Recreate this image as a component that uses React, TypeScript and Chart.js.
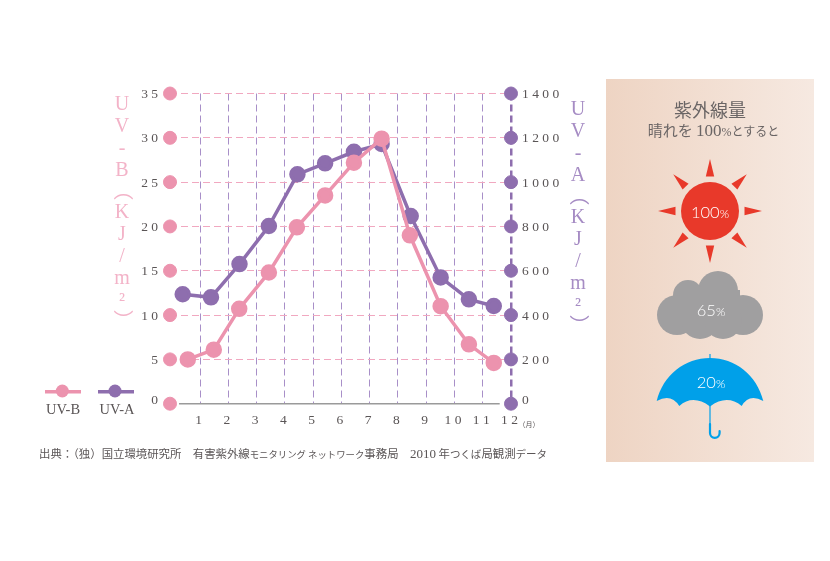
import React, { useEffect, useRef } from 'react';
import { Chart, registerables } from 'chart.js';

Chart.register(...registerables);

const PINK = '#ec93ae';
const PURPLE = '#8e6eae';
const TEXT = '#5a5556';
const SERIF = '"Liberation Serif", "Noto Sans CJK JP", serif';
const JP = '"Noto Sans CJK JP", sans-serif';

// month axis, the left dots sit just before month 0
const xMin = -0.07;
const xMax = 12;
const xTickValues = [1, 2, 3, 4, 5, 6, 7, 8, 9, 10, 11, 12];
const xTickLabels = ['1', '2', '3', '4', '5', '6', '7', '8', '9', '1 0', '1 1', '1 2'];

const uvbTicks = [0, 5, 10, 15, 20, 25, 30, 35];
const uvbTickLabels = ['0', '5', '1 0', '1 5', '2 0', '2 5', '3 0', '3 5'];
const uvaTicks = [0, 200, 400, 600, 800, 1000, 1200, 1400];
const uvaTickLabels = ['0', '2 0 0', '4 0 0', '6 0 0', '8 0 0', '1 0 0 0', '1 2 0 0', '1 4 0 0'];

const uvbMonths = [0.56, 1.48, 2.38, 3.43, 4.42, 5.42, 6.44, 7.42, 8.42, 9.51, 10.51, 11.39];
const uvbValues = [5.0, 6.1, 10.7, 14.8, 19.9, 23.5, 27.2, 29.9, 19.0, 11.0, 6.7, 4.6];
const uvaMonths = [0.38, 1.38, 2.39, 3.43, 4.44, 5.42, 6.44, 7.42, 8.45, 9.51, 10.51, 11.39];
const uvaValues = [494, 480, 630, 802, 1035, 1085, 1137, 1172, 847, 570, 471, 441];

const baselineMonths = [0.25, 11.6];
const baselineValues = [0, 0];

const tickFont = (ctx: any) => ({
  family: SERIF,
  size: 13.5,
  // the zero labels sit a bit above the axis, the empty 2nd line lifts them
  lineHeight: ctx.tick && ctx.tick.value === 0 ? '8px' : 1.2,
});

const rays = [0, 45, 90, 135, 180, 225, 270, 315];

const Label: React.FC<{ x: number; y: number; style?: React.CSSProperties; children: React.ReactNode }> = ({
  x,
  y,
  style,
  children,
}) => (
  <div
    style={{
      position: 'absolute',
      left: x,
      top: y,
      transform: 'translate(-50%, -50%)',
      whiteSpace: 'nowrap',
      lineHeight: 1,
      color: TEXT,
      ...style,
    }}
  >
    {children}
  </div>
);

const App: React.FC = () => {
  const canvasRef = useRef<HTMLCanvasElement | null>(null);

  useEffect(() => {
    if (!canvasRef.current) return;
    const chart = new Chart(canvasRef.current, {
      type: 'line',
      data: {
        datasets: [
          {
            label: 'UV-B',
            data: uvbMonths.map((m, i) => ({ x: m, y: uvbValues[i] })),
            borderColor: PINK,
            backgroundColor: PINK,
            borderWidth: 3.5,
            pointRadius: 6.5,
            tension: 0,
            yAxisID: 'y',
            clip: false,
            order: 1,
          },
          {
            label: 'UV-A',
            data: uvaMonths.map((m, i) => ({ x: m, y: uvaValues[i] })),
            borderColor: PURPLE,
            backgroundColor: PURPLE,
            borderWidth: 3.5,
            pointRadius: 6.5,
            tension: 0,
            yAxisID: 'y1',
            clip: false,
            order: 2,
          },
          {
            label: 'UV-B axis',
            data: uvbTicks.map((v) => ({ x: xMin, y: v })),
            showLine: false,
            backgroundColor: PINK,
            borderColor: PINK,
            pointRadius: 6.5,
            yAxisID: 'y',
            clip: false,
            order: 3,
          },
          {
            label: 'UV-A axis',
            data: uvaTicks.map((v) => ({ x: xMax, y: v })),
            showLine: false,
            backgroundColor: PURPLE,
            borderColor: PURPLE,
            pointRadius: 6.5,
            yAxisID: 'y1',
            clip: false,
            order: 3,
          },
          {
            label: 'baseline',
            data: baselineMonths.map((m, i) => ({ x: m, y: baselineValues[i] })),
            borderColor: '#9a9a9a',
            borderWidth: 1.5,
            pointRadius: 0,
            yAxisID: 'y',
            clip: false,
            order: 4,
          },
        ],
      },
      options: {
        responsive: false,
        animation: false,
        layout: { padding: { top: 93.5, left: 0, right: 0, bottom: 0 } },
        plugins: { legend: { display: false }, tooltip: { enabled: false } },
        scales: {
          x: {
            type: 'linear',
            min: xMin,
            max: xMax,
            afterBuildTicks: (axis: any) => {
              axis.ticks = xTickValues.map((value) => ({ value }));
            },
            afterFit: (axis: any) => {
              axis.height = 561 - 403.7;
            },
            border: { display: false, dash: [7, 4] },
            grid: {
              drawTicks: false,
              color: (ctx: any) => (ctx.tick && ctx.tick.value === 12 ? PURPLE : '#a88fc8'),
              lineWidth: (ctx: any) => (ctx.tick && ctx.tick.value === 12 ? 2.5 : 1),
            },
            ticks: {
              autoSkip: false,
              maxRotation: 0,
              padding: 9,
              labelOffset: -1.5,
              color: TEXT,
              font: { family: SERIF, size: 13.5 },
              callback: (val: any) => xTickLabels[xTickValues.indexOf(val)] ?? '',
            },
          },
          y: {
            position: 'left',
            min: 0,
            max: 35,
            afterBuildTicks: (axis: any) => {
              axis.ticks = uvbTicks.map((value) => ({ value }));
            },
            afterFit: (axis: any) => {
              axis.width = 170;
            },
            border: { display: false, dash: [7, 4] },
            grid: {
              drawTicks: false,
              color: (ctx: any) => (ctx.tick && ctx.tick.value === 0 ? 'transparent' : '#f1a8c0'),
              lineWidth: 1,
            },
            ticks: {
              padding: 12,
              labelOffset: 1,
              color: TEXT,
              font: tickFont,
              callback: (val: any) => {
                const label = uvbTickLabels[uvbTicks.indexOf(val)] ?? '';
                return val === 0 ? [label, ''] : label;
              },
            },
          },
          y1: {
            position: 'right',
            min: 0,
            max: 1400,
            afterBuildTicks: (axis: any) => {
              axis.ticks = uvaTicks.map((value) => ({ value }));
            },
            afterFit: (axis: any) => {
              axis.width = 830 - 511;
            },
            border: { display: false },
            grid: { display: false, drawTicks: false },
            ticks: {
              padding: 11,
              labelOffset: 1,
              color: TEXT,
              font: tickFont,
              callback: (val: any) => {
                const label = uvaTickLabels[uvaTicks.indexOf(val)] ?? '';
                return val === 0 ? [label, ''] : label;
              },
            },
          },
        },
      },
    });
    return () => chart.destroy();
  }, []);

  const verticalTitle: React.CSSProperties = {
    position: 'absolute',
    writingMode: 'vertical-rl',
    textOrientation: 'upright',
    fontFamily: SERIF,
    fontSize: 20,
    lineHeight: 1,
    whiteSpace: 'nowrap',
  };

  return (
    <div
      style={{
        position: 'absolute',
        left: 0,
        top: 0,
        width: 830,
        height: 561,
        overflow: 'hidden',
        background: '#fff',
      }}
    >
      <canvas ref={canvasRef} width={830} height={561} style={{ position: 'absolute', left: 0, top: 0 }} />

      <div style={{ ...verticalTitle, left: 112, top: 92, color: '#f3b3c8' }}>UV-B（KJ/m²）</div>
      <div style={{ ...verticalTitle, left: 568, top: 97, color: '#a68cc4' }}>UV-A（KJ/m²）</div>

      {/* legend */}
      <svg width={830} height={561} style={{ position: 'absolute', left: 0, top: 0 }}>
        <line x1={45} x2={81} y1={391.7} y2={391.7} stroke={PINK} strokeWidth={3.5} />
        <circle cx={62.3} cy={391} r={6.5} fill={PINK} />
        <line x1={98} x2={134} y1={391.7} y2={391.7} stroke={PURPLE} strokeWidth={3.5} />
        <circle cx={115} cy={391} r={6.5} fill={PURPLE} />
      </svg>
      <Label x={63} y={409} style={{ fontFamily: SERIF, fontSize: 14.5 }}>UV-B</Label>
      <Label x={117} y={409} style={{ fontFamily: SERIF, fontSize: 14.5 }}>UV-A</Label>

      <Label x={529} y={424} style={{ fontFamily: JP, fontSize: 7 }}>（月）</Label>

      {/* source line */}
      <div
        style={{
          position: 'absolute',
          left: 39,
          top: 447,
          whiteSpace: 'nowrap',
          lineHeight: 1,
          fontFamily: JP,
          fontSize: 11.4,
          color: TEXT,
        }}
      >
        出典：（独）国立環境研究所　有害紫外線
        <span style={{ fontSize: 9.4 }}>モニタリング ネットワーク</span>
        事務局　<span style={{ fontFamily: SERIF, fontSize: 13 }}>2010</span> 年
        <span style={{ fontSize: 10.5 }}>つくば</span>局観測
        <span style={{ fontSize: 10.5 }}>データ</span>
      </div>

      {/* right panel */}
      <div
        style={{
          position: 'absolute',
          left: 606,
          top: 79,
          width: 208,
          height: 383,
          background: 'linear-gradient(to right, #eed4c3, #f6e9e1)',
        }}
      />
      <svg width={830} height={561} style={{ position: 'absolute', left: 0, top: 0 }}>
        <g transform="translate(710 211)" fill="#e8392a">
          <circle r={29} />
          {rays.map((r) => (
            <polygon key={r} points="-4.2,-34.5 4.2,-34.5 0,-52" transform={`rotate(${r})`} />
          ))}
        </g>
        <g fill="#a09fa0">
          <circle cx={718} cy={291} r={20} />
          <circle cx={688} cy={295} r={15} />
          <circle cx={677} cy={315} r={20} />
          <circle cx={743} cy={315} r={20} />
          <circle cx={700} cy={320} r={19} />
          <circle cx={723} cy={320} r={19} />
          <rect x={680} y={290} width={60} height={35} />
        </g>
        <g>
          <path
            d="M656.7 401 C663 375 685 358 710 358 C735 358 757 375 763.3 401 Q749 393 741.7 406 Q727 394 710 406.5 Q693 394 679.3 406 Q671 393 656.7 401 Z"
            fill="#00a0e9"
          />
          <path d="M710 354 V426" stroke="#00a0e9" strokeWidth={1.2} fill="none" />
          <path
            d="M710 424 V433 A4.7 4.7 0 0 0 719.6 433 V431"
            stroke="#00a0e9"
            strokeWidth={2.2}
            fill="none"
            strokeLinecap="round"
          />
        </g>
      </svg>

      <Label x={710} y={109} style={{ fontFamily: JP, fontSize: 18, color: '#6a6565' }}>紫外線量</Label>
      <Label x={713.5} y={130} style={{ fontFamily: JP, fontSize: 15, color: '#6a6565' }}>
        晴れを <span style={{ fontFamily: SERIF, fontSize: 17 }}>100</span>
        <span style={{ fontFamily: SERIF, fontSize: 12 }}>%</span>
        <span style={{ fontSize: 12 }}>とすると</span>
      </Label>

      <Label x={710} y={212} style={{ fontFamily: 'Lato', fontWeight: 300, fontSize: 16.5, color: '#fff' }}>
        100<span style={{ fontSize: 12 }}>%</span>
      </Label>
      <Label x={711} y={310} style={{ fontFamily: 'Lato', fontWeight: 300, fontSize: 16.5, color: '#fff' }}>
        65<span style={{ fontSize: 12 }}>%</span>
      </Label>
      <Label x={711} y={382} style={{ fontFamily: 'Lato', fontWeight: 300, fontSize: 16.5, color: '#fff' }}>
        20<span style={{ fontSize: 12 }}>%</span>
      </Label>
    </div>
  );
};

export default App;
